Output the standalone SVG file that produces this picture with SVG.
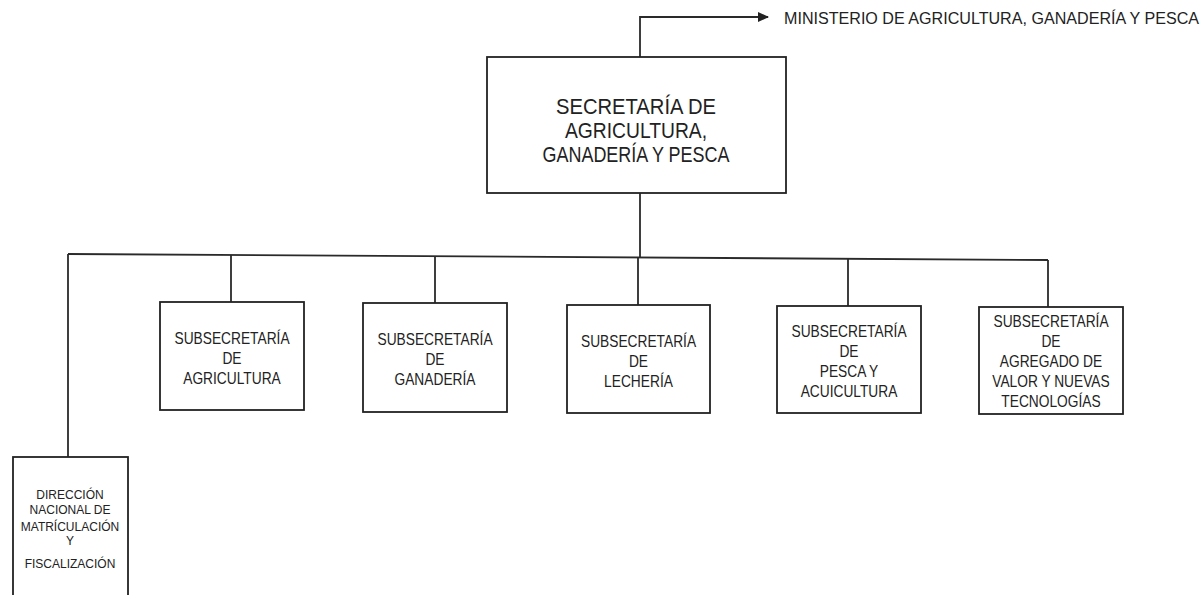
<svg xmlns="http://www.w3.org/2000/svg" width="1202" height="595" viewBox="0 0 1202 595">
<style>
.box{fill:#fff;stroke:#222;stroke-width:1.8}
.ln{fill:none;stroke:#2a2a2a;stroke-width:1.8}
text{font-family:"Liberation Sans",Arial,sans-serif;fill:#222;text-anchor:middle}
.s{font-size:16px}
.d{font-size:12px}
.m{font-size:22px}
</style>
<defs>
<marker id="arr" markerWidth="11" markerHeight="10" refX="10" refY="5" orient="auto" markerUnits="userSpaceOnUse">
<path d="M0,0 L11,5 L0,10 Z" fill="#222"/>
</marker>
</defs>
<rect width="1202" height="595" fill="#fff"/>
<g id="connectors">
<polyline class="ln" points="640,57 640,17 768,17" marker-end="url(#arr)"/>
<line class="ln" x1="640" y1="193" x2="640" y2="257"/>
<line class="ln" x1="68" y1="254" x2="1048" y2="260"/>
<line class="ln" x1="68" y1="254" x2="68" y2="457"/>
<line class="ln" x1="231" y1="255" x2="231" y2="302"/>
<line class="ln" x1="435" y1="256" x2="435" y2="303"/>
<line class="ln" x1="638" y1="257" x2="638" y2="305"/>
<line class="ln" x1="848" y1="259" x2="848" y2="306"/>
<line class="ln" x1="1048" y1="260" x2="1048" y2="307"/>
</g>
<g id="ministerio">
<text x="991.5" y="24" style="font-size:16px" textLength="415" lengthAdjust="spacingAndGlyphs">MINISTERIO DE AGRICULTURA, GANADERÍA Y PESCA</text>
</g>
<g id="secretaria">
<rect class="box" x="487" y="57" width="299" height="136"/>
<text class="m" x="636" y="114" textLength="160" lengthAdjust="spacingAndGlyphs">SECRETARÍA DE</text>
<text class="m" x="636" y="138" textLength="142" lengthAdjust="spacingAndGlyphs">AGRICULTURA,</text>
<text class="m" x="636" y="162" textLength="187" lengthAdjust="spacingAndGlyphs">GANADERÍA Y PESCA</text>
</g>
<g id="sub-agricultura">
<rect class="box" x="160" y="302" width="144" height="108"/>
<g transform="translate(232 0) scale(0.86 1)">
<text class="s" x="0" y="344">SUBSECRETARÍA</text>
<text class="s" x="0" y="364">DE</text>
<text class="s" x="0" y="384">AGRICULTURA</text>
</g>
</g>
<g id="sub-ganaderia">
<rect class="box" x="363" y="303" width="144" height="109"/>
<g transform="translate(435 0) scale(0.86 1)">
<text class="s" x="0" y="345">SUBSECRETARÍA</text>
<text class="s" x="0" y="365">DE</text>
<text class="s" x="0" y="385">GANADERÍA</text>
</g>
</g>
<g id="sub-lecheria">
<rect class="box" x="567" y="305" width="143" height="108"/>
<g transform="translate(638.5 0) scale(0.86 1)">
<text class="s" x="0" y="347">SUBSECRETARÍA</text>
<text class="s" x="0" y="367">DE</text>
<text class="s" x="0" y="387">LECHERÍA</text>
</g>
</g>
<g id="sub-pesca">
<rect class="box" x="777" y="306" width="144" height="107"/>
<g transform="translate(849 0) scale(0.86 1)">
<text class="s" x="0" y="337">SUBSECRETARÍA</text>
<text class="s" x="0" y="357">DE</text>
<text class="s" x="0" y="377">PESCA Y</text>
<text class="s" x="0" y="397">ACUICULTURA</text>
</g>
</g>
<g id="sub-agregado">
<rect class="box" x="979" y="307" width="144" height="107"/>
<g transform="translate(1051 0) scale(0.86 1)">
<text class="s" x="0" y="327">SUBSECRETARÍA</text>
<text class="s" x="0" y="347">DE</text>
<text class="s" x="0" y="367">AGREGADO DE</text>
<text class="s" x="0" y="387">VALOR Y NUEVAS</text>
<text class="s" x="0" y="407">TECNOLOGÍAS</text>
</g>
</g>
<g id="direccion">
<rect class="box" x="13" y="457" width="115" height="150"/>
<text class="d" x="70" y="499">DIRECCIÓN</text>
<text class="d" x="70" y="514">NACIONAL DE</text>
<text class="d" x="70" y="531">MATRÍCULACIÓN</text>
<text class="d" x="70" y="545">Y</text>
<text class="d" x="70" y="568">FISCALIZACIÓN</text>
</g>
</svg>
